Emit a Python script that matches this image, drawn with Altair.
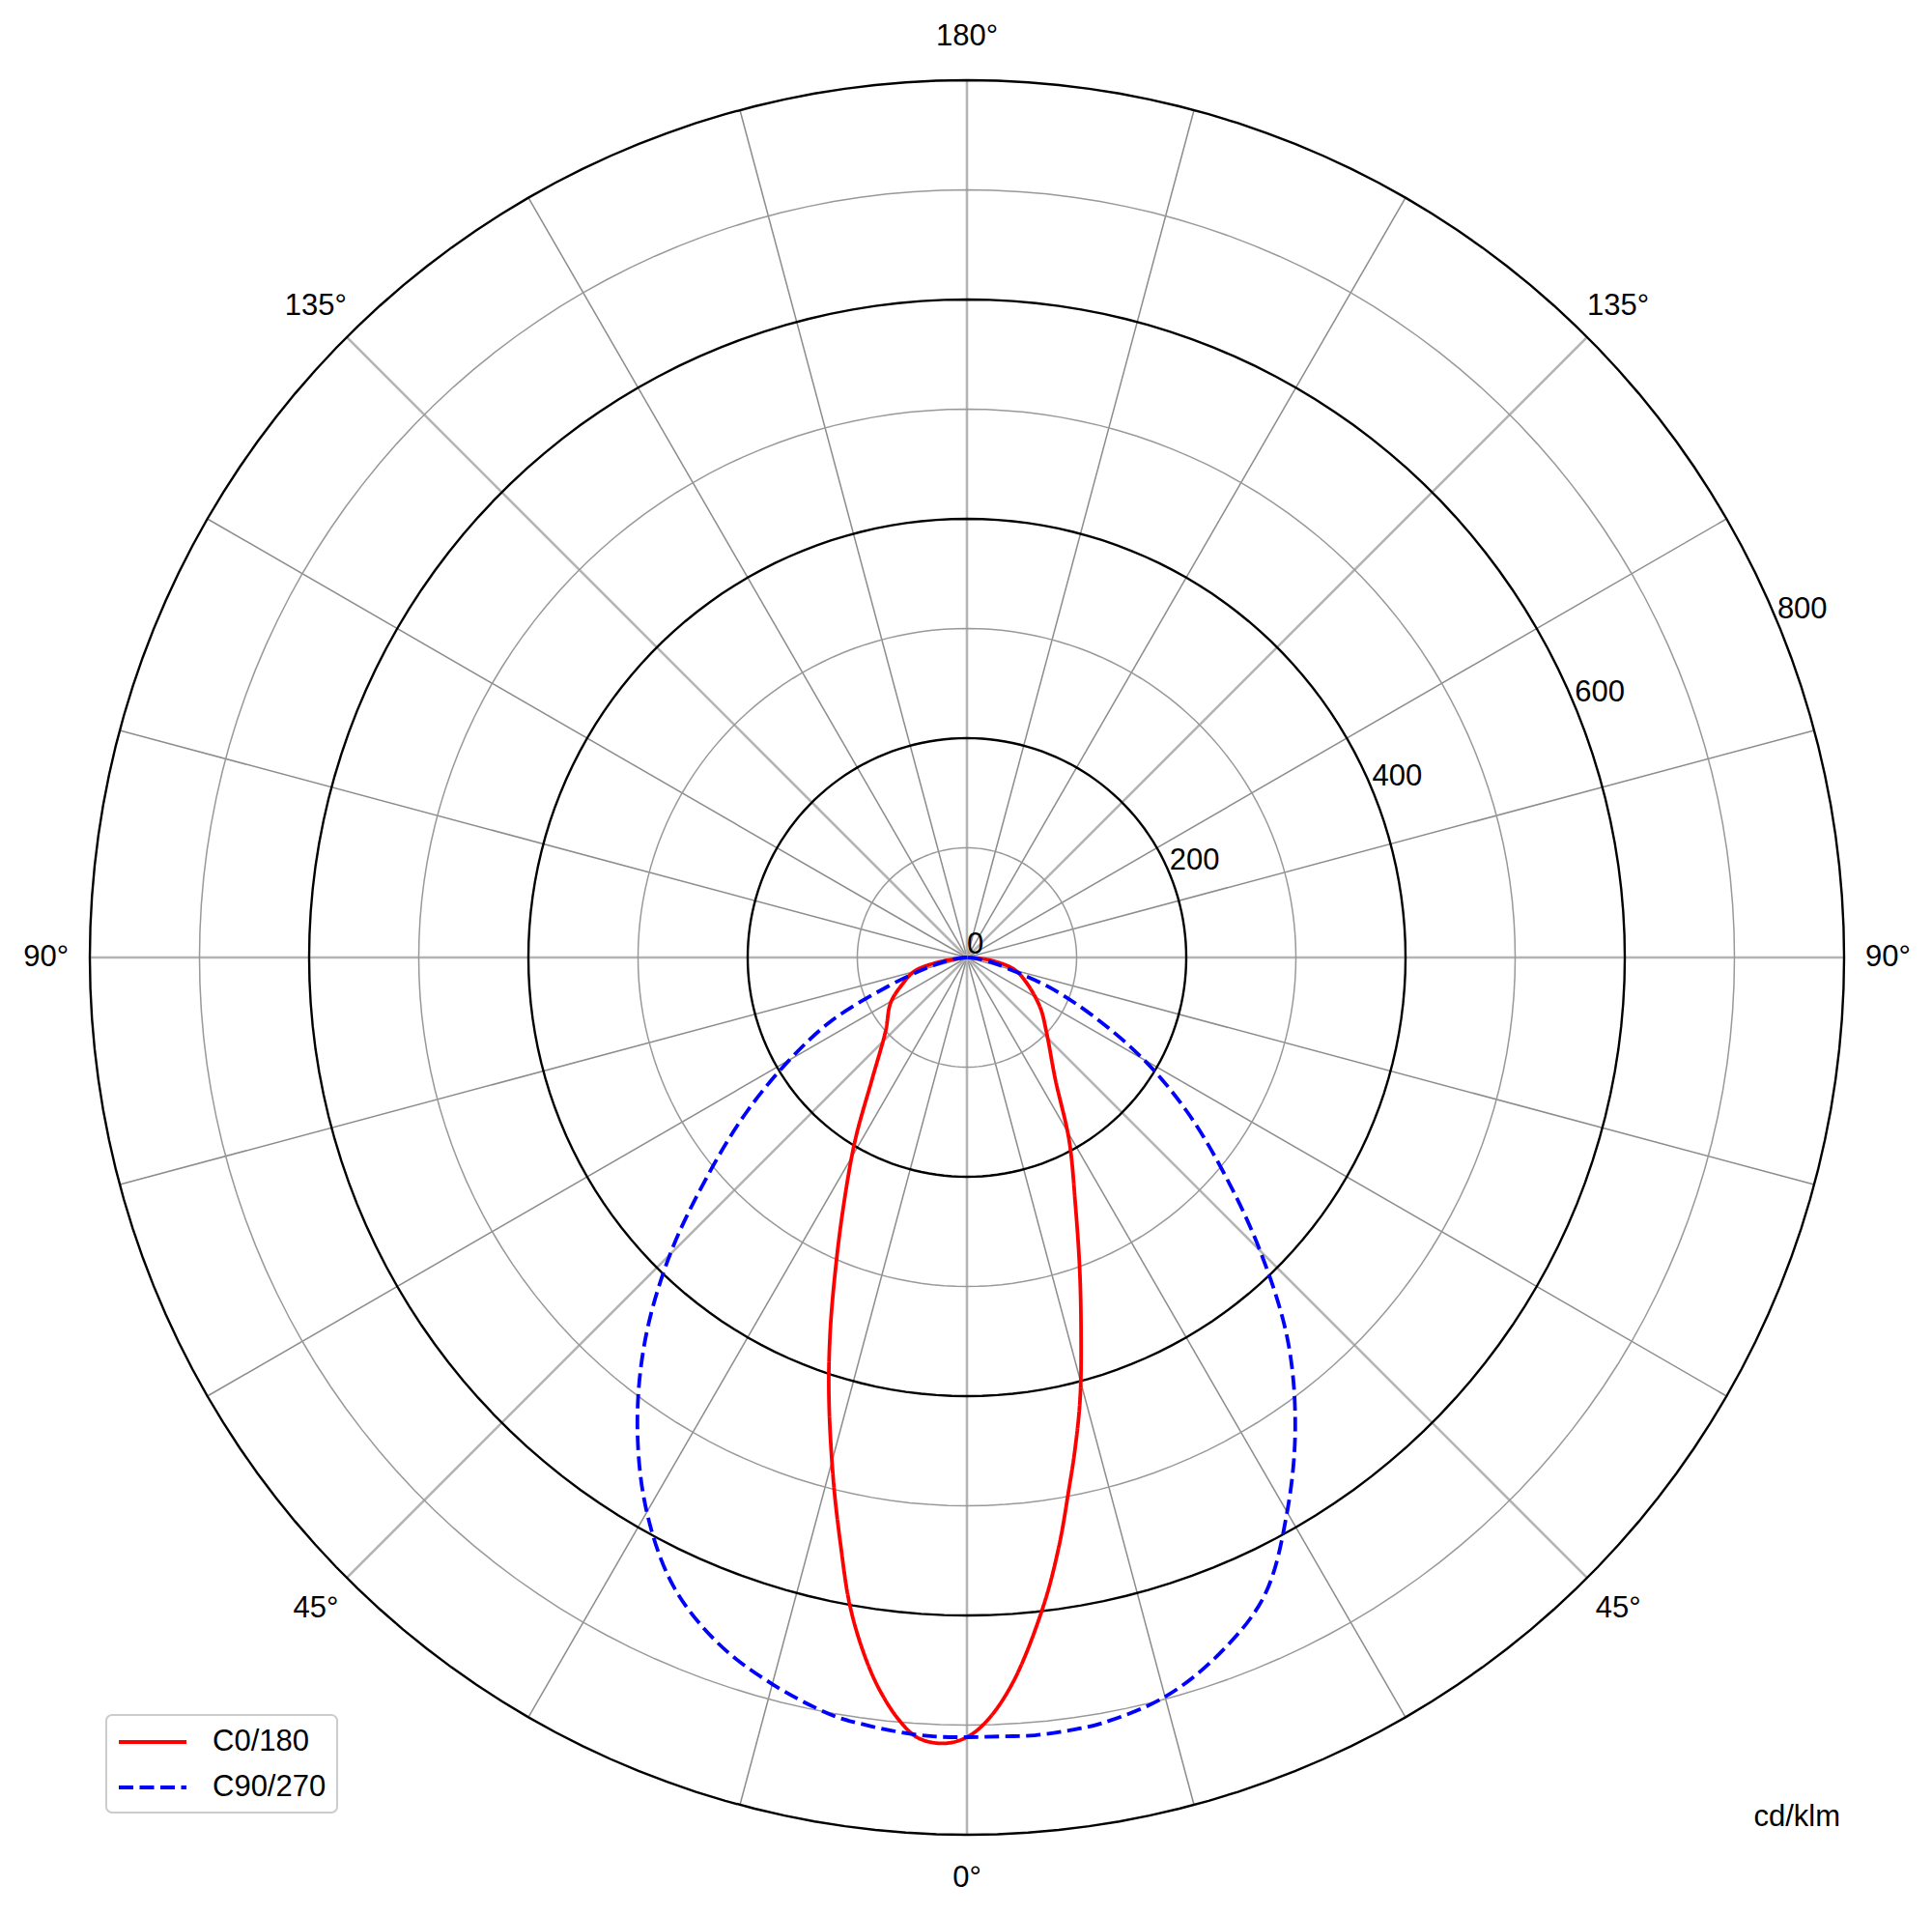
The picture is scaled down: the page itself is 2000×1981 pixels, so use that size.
import altair as alt
import pandas as pd

# ---------------- data (cd/klm) ----------------
# C0 half-plane (right) and C180 half-plane (left): gamma [deg] and intensity
g_c0   = [0, 1.6, 3.7, 6.7, 8.9, 10.8, 12.4, 14.4, 16.9, 19.9, 23.7, 29.2, 36, 47, 55.6, 67, 76, 84, 90]
c0     = [711, 695, 661, 596, 543, 495, 459, 415, 358, 302, 246, 191, 137, 99, 81, 59, 44, 19, 0]
g_c180 = [0, 1.7, 3.6, 5.1, 6.9, 8.6, 10.3, 12.1, 14.3, 17.4, 20.0, 22.9, 26.5, 31.5, 37.9, 47.9, 59.3, 66.9, 75.5, 81, 90]
c180   = [711, 717, 713, 698, 671, 638, 599, 549, 493, 421, 365, 308, 252, 195, 141, 100, 81, 65, 49, 24, 0]
# C90 half-plane (right) and C270 half-plane (left)
g_c90  = [0, 2.5, 5, 7.5, 10, 15, 20, 25, 30, 35, 40, 45, 50, 55, 60, 65, 70, 75, 80, 85, 90]
c90    = [711, 711, 712, 711, 709, 698, 675, 642, 584, 522, 455, 378, 306, 245, 186, 128, 81, 38, 20, 8, 0]
g_c270 = [0, 2.5, 5, 7.5, 10, 15, 20, 25, 30, 35, 40, 45, 50, 55, 60, 65, 70, 75, 80, 85, 90]
c270   = [711, 711, 709, 706, 702, 686, 665, 633, 584, 524, 457, 383, 308, 245, 187, 136, 76, 40, 20, 8, 0]

series_names = ["C0/180", "C90/270"]
series_colors = ["#ff0000", "#0000ff"]

ring_values = [100, 200, 300, 400, 500, 600, 700, 800]
spoke_angles = list(range(0, 360, 15))
radial_ticks = [0, 200, 400, 600, 800]
radial_label_angle = 22.5
angle_labels_right = [0, 45, 90, 135, 180]
angle_labels_left = [45, 90, 135]
unit_label = "cd/klm"

# ---------------- tables ----------------
rows = []
for name, (gl, left), (gr, right) in [
    (series_names[0], (g_c180, c180), (g_c0, c0)),
    (series_names[1], (g_c270, c270), (g_c90, c90)),
]:
    k = 0
    for g, v in reversed(list(zip(gl, left))):
        if g == 0:
            continue
        rows.append(dict(series=name, side=-1, gamma=g, I=v, order=k))
        k += 1
    for g, v in zip(gr, right):
        rows.append(dict(series=name, side=1, gamma=g, I=v, order=k))
        k += 1
curves_df = pd.DataFrame(rows)

lab_rows = [dict(g=g, side=1, text=f"{g}°") for g in angle_labels_right] + \
           [dict(g=g, side=-1, text=f"{g}°") for g in angle_labels_left]
angle_df = pd.DataFrame(lab_rows)

# ---------------- layout ----------------
PX = 227 / 200.0          # pixels per cd/klm
W, H = 1980, 1960
CX, CY = 993, 983         # centre inside plot area
RMAX = ring_values[-1]
xs = alt.Scale(domain=[-CX / PX, (W - CX) / PX], nice=False, zero=False)
ys = alt.Scale(domain=[-(H - CY) / PX, CY / PX], nice=False, zero=False)
FONT = "Liberation Sans"
FS = 31


def X(f):
    return alt.X(f, type="quantitative", scale=xs, axis=None)


def Y(f):
    return alt.Y(f, type="quantitative", scale=ys, axis=None)


rings_base = alt.Chart(pd.DataFrame({"r": ring_values})).transform_calculate(
    a="sequence(0, 362, 2)"
).transform_flatten(["a"]).transform_calculate(
    x="datum.r*sin(datum.a*PI/180)", y="datum.r*cos(datum.a*PI/180)"
)
rings_minor = rings_base.transform_filter("datum.r % 200 != 0").mark_line(
    color="#999999", strokeWidth=1.5
).encode(x=X("x"), y=Y("y"), detail="r:N", order="a:Q")
rings_major = rings_base.transform_filter("datum.r % 200 == 0").mark_line(
    color="black", strokeWidth=2.4
).encode(x=X("x"), y=Y("y"), detail="r:N", order="a:Q")

spokes_base = alt.Chart(pd.DataFrame({"a": spoke_angles})).transform_calculate(
    x0="0", y0="0",
    x2=f"{RMAX}*sin(datum.a*PI/180)", y2=f"{RMAX}*cos(datum.a*PI/180)"
)
spokes_minor = spokes_base.transform_filter("datum.a % 45 != 0").mark_rule(
    color="#8c8c8c", strokeWidth=1.5
).encode(x=X("x0"), y=Y("y0"), x2="x2:Q", y2="y2:Q")
spokes_major = spokes_base.transform_filter("datum.a % 45 == 0").mark_rule(
    color="#b4b4b4", strokeWidth=2.6
).encode(x=X("x0"), y=Y("y0"), x2="x2:Q", y2="y2:Q")

leg = dict(
    title=None, orient="none", legendX=102, legendY=1767,
    symbolType="M-1,0H3.667", symbolSize=900, symbolStrokeWidth=3.8,
    labelFont=FONT, labelFontSize=FS, labelColor="black", labelOffset=65,
    padding=11, rowPadding=15, fillColor="white", strokeColor="#cccccc",
    cornerRadius=6, labelLimit=0,
)

curves = alt.Chart(curves_df).transform_calculate(
    x="datum.side*datum.I*sin(datum.gamma*PI/180)",
    y="-datum.I*cos(datum.gamma*PI/180)",
).mark_line(strokeWidth=3.8, interpolate="catmull-rom").encode(
    x=X("x"), y=Y("y"), order="order:Q",
    color=alt.Color("series:N", scale=alt.Scale(domain=series_names, range=series_colors),
                    legend=alt.Legend(**leg)),
    strokeDash=alt.StrokeDash("series:N",
                              scale=alt.Scale(domain=series_names, range=[[1, 0], [15, 6.5]]),
                              legend=alt.Legend(**leg)),
)

angle_text = alt.Chart(angle_df).transform_calculate(
    x="datum.side*840*sin(datum.g*PI/180)", y="-840*cos(datum.g*PI/180)"
).mark_text(font=FONT, fontSize=FS, color="black", align="center", baseline="middle").encode(
    x=X("x"), y=Y("y"), text="text:N"
)

radial_text = alt.Chart(pd.DataFrame({"v": radial_ticks})).transform_calculate(
    x=f"datum.v*cos({radial_label_angle}*PI/180)",
    y=f"datum.v*sin({radial_label_angle}*PI/180)",
).mark_text(font=FONT, fontSize=FS, color="black", align="left", baseline="alphabetic", dy=-4).encode(
    x=X("x"), y=Y("y"), text="v:Q"
)

unit_text = alt.Chart(pd.DataFrame({"t": [unit_label]})).mark_text(
    font=FONT, fontSize=FS, color="black", align="right", baseline="alphabetic"
).encode(x=alt.value(1897), y=alt.value(1882), text="t:N")

chart = alt.layer(
    spokes_minor, spokes_major, rings_minor, rings_major,
    curves, angle_text, radial_text, unit_text
).properties(
    width=W, height=H, padding=0, autosize=alt.AutoSizeParams(type="none"), background="white"
).configure_view(stroke=None).configure_legend(strokeWidth=2)

chart.save("out.html", embed_options={"renderer": "svg", "actions": False})
